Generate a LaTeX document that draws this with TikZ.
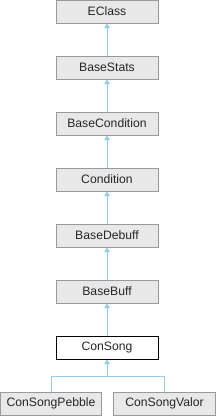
\documentclass[tikz,border=0pt]{standalone}
\usepackage{fontspec}
\setmainfont{Liberation Sans}
\usetikzlibrary{arrows.meta}
\definecolor{edgeblue}{HTML}{97CBE6}
\definecolor{boxfill}{HTML}{E8E8E8}
\definecolor{boxline}{HTML}{999999}
\tikzset{
  cls/.style={draw=boxline, fill=boxfill, line width=1pt, minimum height=23pt, inner sep=0pt, font=\fontsize{12.2pt}{14pt}\selectfont, text=black!85},
  clsw/.style={cls, minimum width=102pt},
  cur/.style={cls, draw=black, fill=white, minimum width=102pt},
  inh/.style={draw=edgeblue, line width=1pt, -{Triangle[length=4.5pt,width=5.5pt]}},
  inhl/.style={draw=edgeblue, line width=1pt},
}
\begin{document}
\begin{tikzpicture}[x=1pt,y=1pt]
\useasboundingbox (0,0) rectangle (216,-416);
\node[clsw] (eclass) at (107,-11.5) {EClass};
\node[clsw] (stats) at (107,-67.5) {BaseStats};
\node[clsw] (bcond) at (107,-123.5) {BaseCondition};
\node[clsw] (cond) at (107,-179.5) {Condition};
\node[clsw] (debuff) at (107,-235.5) {BaseDebuff};
\node[clsw] (buff) at (107,-291.5) {BaseBuff};
\node[cur] (song) at (107,-347.5) {ConSong};
\node[cls, minimum width=101pt] (pebble) at (51,-403.5) {ConSongPebble};
\node[clsw] (valor) at (164.5,-403.5) {ConSongValor};
\coordinate (j) at (107,-376);
\draw[inh] (stats) -- (eclass);
\draw[inh] (bcond) -- (stats);
\draw[inh] (cond) -- (bcond);
\draw[inh] (debuff) -- (cond);
\draw[inh] (buff) -- (debuff);
\draw[inh] (song) -- (buff);
\draw[inh] (pebble.north) |- (j) -- (song.south);
\draw[inhl] (valor.north) |- (j);
\end{tikzpicture}
\end{document}
